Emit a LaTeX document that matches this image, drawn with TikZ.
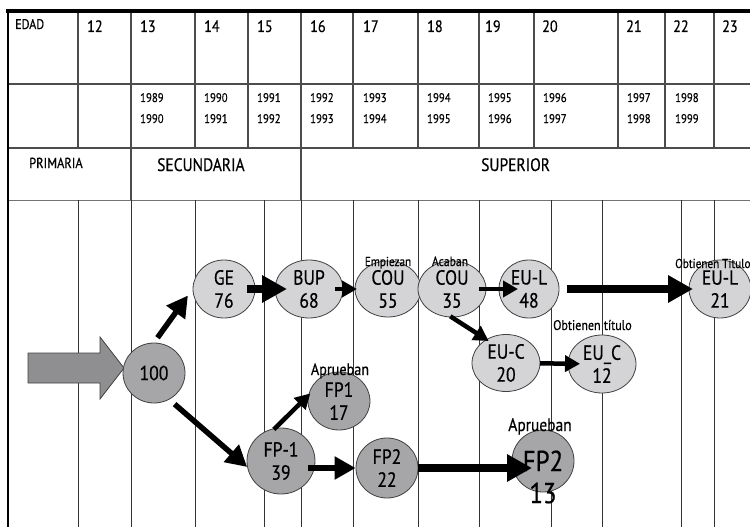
\documentclass[tikz,border=0pt]{standalone}
\usepackage{fontspec}
\setmainfont{PT Sans}[FakeStretch=0.86,FakeBold=0.5]
\usetikzlibrary{shapes.geometric,arrows.meta}

\definecolor{lightnode}{HTML}{D4D4D6}
\definecolor{darknode}{HTML}{A6A6A8}
\definecolor{bigarrow}{HTML}{8F8F91}

\begin{document}
\begin{tikzpicture}[x=1pt,y=-1pt,
  gridline/.style={line width=1.1pt, black!70},
  lowline/.style={line width=0.9pt, black!80},
  light/.style={ellipse, draw=black!75, line width=0.8pt, fill=lightnode,
    inner sep=0pt, align=center, font=\fontsize{20.5}{23}\selectfont},
  dark/.style={light, fill=darknode},
  arrS/.style={line width=4.5pt, -{Triangle[length=15pt,width=16pt]}},
  arrM/.style={line width=5.5pt, -{Triangle[length=21pt,width=22pt]}},
  arrL/.style={line width=8pt, -{Triangle[length=25pt,width=26pt]}},
  hdr/.style={anchor=base west, inner sep=0pt, font=\fontsize{16.5}{18}\selectfont},
  yrs/.style={anchor=base west, inner sep=0pt, font=\fontsize{12.5}{15}\selectfont},
  note/.style={anchor=base, inner sep=0pt, font=\fontsize{13}{15}\selectfont}
]

% Picture size
\useasboundingbox (0,0) rectangle (750,527);
\clip (0,0) rectangle (750,527);

% Header grid
\foreach \x in {78,131,195,248,301,353,418,479,534,618,665,714}
  \draw[gridline] (\x,11) -- (\x,148);
\foreach \x in {131,301}
  \draw[gridline] (\x,148) -- (\x,200);
\foreach \y in {84,148}
  \draw[gridline] (8,\y) -- (750,\y);
\draw[line width=0.9pt, black!55] (8,200) -- (750,200);

% Lower grid
\foreach \x in {78,131,195,264,301,353,418,479,551,602,681,714}
  \draw[lowline] (\x,200) -- (\x,527);

% Frame
\draw[line width=4pt] (6,11) -- (750,11);
\draw[line width=2.5pt] (8,9) -- (8,527);

% Ages
\node[hdr, font=\fontsize{14}{16}\selectfont] (edad) at (15,29) {EDAD};
\foreach \x/\a in {87/12,140/13,204/14,257/15,310/16,363/17,427/18,485/19,542/20,626/21,673/22,722/23}
  \node[hdr] (age\a) at (\x,32) {\a};

% School years
\foreach \x/\a/\b in {140/1989/1990,204/1990/1991,257/1991/1992,310/1992/1993,363/1993/1994,427/1994/1995,488/1995/1996,543/1996/1997,627/1997/1998,675/1998/1999}{
  \node[yrs] (yrA\a) at (\x,102) {\a};
  \node[yrs] (yrB\a) at (\x,123) {\b};
}

% Levels
\node[hdr, font=\fontsize{14.5}{16}\selectfont] (prim) at (29,168) {PRIMARIA};
\node[hdr, font=\fontsize{18}{20}\selectfont] (secu) at (157,171) {SECUNDARIA};
\node[hdr, font=\fontsize{18}{20}\selectfont] (supe) at (481,171) {SUPERIOR};

% Entry arrow
\draw[line width=0.8pt, draw=black!75, fill=bigarrow]
  (28,353) -- (100,353) -- (100,337) -- (124,368) -- (100,399) -- (100,383) -- (28,383) -- cycle;

% Groups
\node[dark, minimum width=62pt, minimum height=60pt] (hundred) at (154,373) {100};
\node[light, minimum width=62pt, minimum height=58pt] (ge) at (224,289) {GE\\76};
\node[light, minimum width=68pt, minimum height=58pt] (bup) at (309,289) {BUP\\68};
\node[light, minimum width=66pt, minimum height=56pt] (couA) at (388,289) {COU\\55};
\node[light, minimum width=68pt, minimum height=56pt] (couB) at (452,289) {COU\\35};
\node[light, minimum width=60pt, minimum height=58pt] (eulA) at (529,289) {EU-L\\48};
\node[light, minimum width=62pt, minimum height=58pt] (eulB) at (720,289) {EU-L\\21};
\node[light, minimum width=68pt, minimum height=57pt] (eucA) at (506,363) {EU-C\\20};
\node[light, minimum width=68pt, minimum height=58pt] (eucB) at (602,364) {EU\_C\\12};
\node[dark, minimum width=68pt, minimum height=66pt] (fpone) at (281,461) {FP-1\\39};
\node[dark, minimum width=62pt, minimum height=58pt] (fpa) at (339,401) {FP1\\17};
\node[dark, minimum width=62pt, minimum height=60pt] (fptwoa) at (387,468) {FP2\\22};
\node[dark, minimum width=62pt, minimum height=62pt] (fptwob) at (543,461) {};
\node[align=center, inner sep=0pt, font=\fontsize{29}{32}\selectfont] (fptwobtxt) at (543,477) {FP2\\13};

% Flows
\draw[arrM, shorten <=6pt, shorten >=8pt] (hundred.north) -- (ge.west);
\draw[arrM, shorten <=7pt] (hundred.-60) -- (fpone.190);
\draw[arrL, shorten <=23pt, shorten >=22pt] (ge.center) -- (bup.center);
\draw[arrS, shorten <=26pt, shorten >=31pt] (bup.center) -- (couA.center);
\draw[arrS, shorten <=27pt, shorten >=11pt] (couB.center) -- (eulA.center);
\draw[arrL, shorten <=38pt, shorten >=27pt] (eulA.center) -- (eulB.center);
\draw[arrS, shorten <=-2pt, shorten >=-3pt] (couB.south) -- (eucA.130);
\draw[arrS, shorten <=34pt, shorten >=22pt] (eucA.center) -- (eucB.center);
\draw[arrS, shorten <=-2pt, shorten >=-3pt] (fpone.100) -- (fpa.170);
\draw[arrM, shorten <=-7pt] (fptwoa.west -| fpone.east) -- (fptwoa.west);
\draw[arrL, shorten >=11pt] (fptwoa.east) -- (fptwoa.east -| fptwob);

% Notes
\node[note] (empiezan) at (388,266) {Empiezan};
\node[note, font=\fontsize{13.5}{15}\selectfont] (acaban) at (450,266) {Acaban};
\node[note, anchor=base west] (obtA) at (675,268) {Obtienen Titulo};
\node[note, anchor=base west, font=\fontsize{14}{16}\selectfont] (obtB) at (553,330) {Obtienen título};
\node[note, font=\fontsize{16.5}{18}\selectfont] (apruebanA) at (340,375) {Aprueban};
\node[note, font=\fontsize{18}{20}\selectfont] (apruebanB) at (540,431) {Aprueban};

\end{tikzpicture}
\end{document}
